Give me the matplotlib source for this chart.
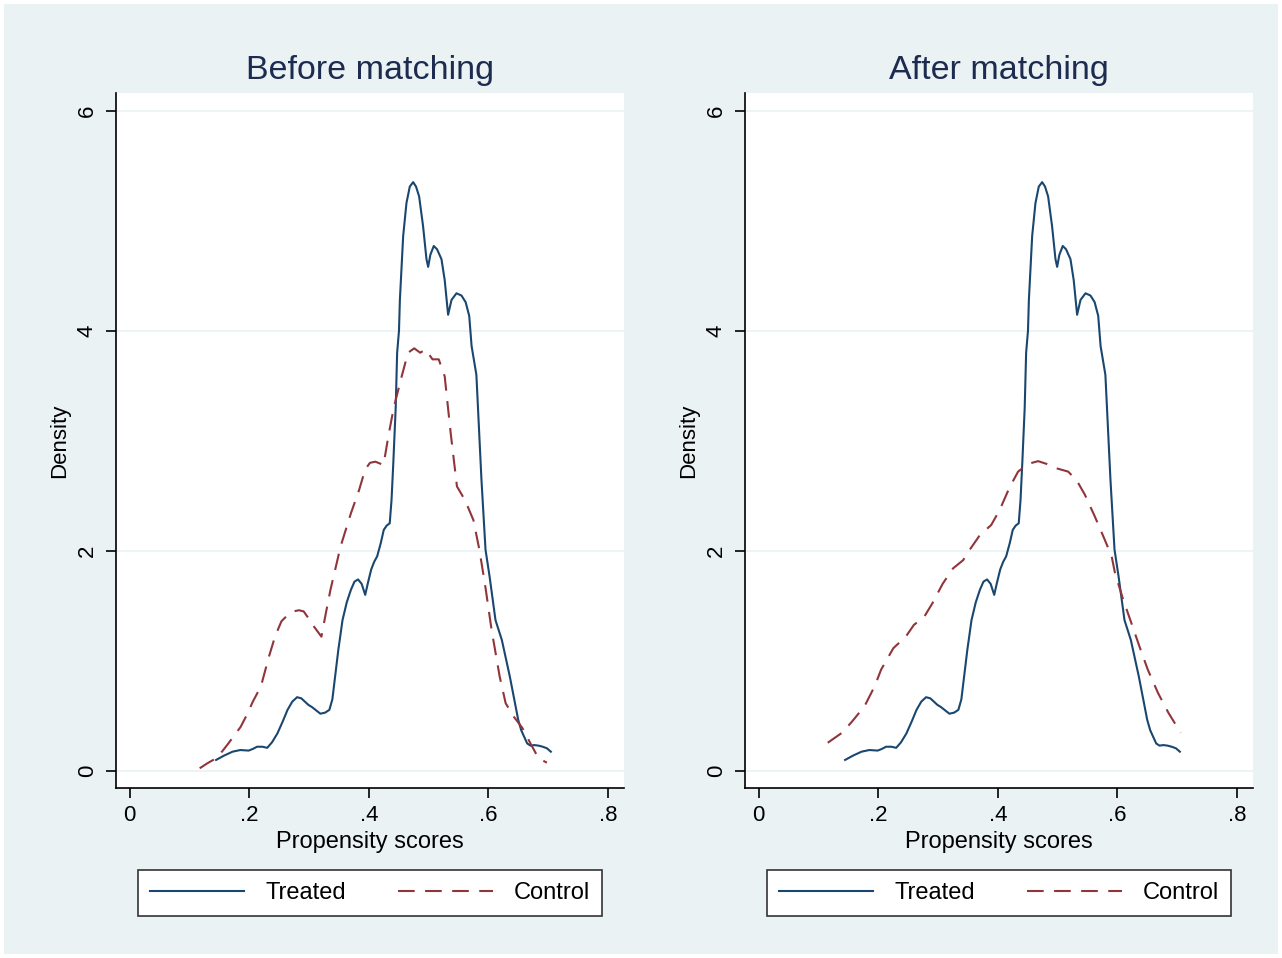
import matplotlib
matplotlib.use("Agg")
import matplotlib.pyplot as plt
from matplotlib.patches import Rectangle

# propensity score densities
treated_x = [0.1445, 0.158, 0.172, 0.185, 0.199, 0.206, 0.213, 0.222, 0.230, 0.238,
             0.247, 0.256, 0.264, 0.272, 0.280, 0.287, 0.293, 0.299, 0.305, 0.312,
             0.319, 0.327, 0.334, 0.339, 0.343, 0.349, 0.356, 0.363, 0.370, 0.376,
             0.382, 0.388, 0.394, 0.399, 0.404, 0.409, 0.414, 0.420, 0.425, 0.430,
             0.435, 0.438, 0.441, 0.445, 0.4474, 0.4505, 0.452, 0.4575, 0.463, 0.4686,
             0.4742, 0.479, 0.4842, 0.4908, 0.4965, 0.4993, 0.503, 0.5087, 0.5142, 0.5216,
             0.527, 0.5327, 0.5384, 0.5467, 0.555, 0.562, 0.568, 0.572, 0.580, 0.5885,
             0.5953, 0.602, 0.612, 0.6226, 0.636, 0.650, 0.655, 0.660, 0.665, 0.6705,
             0.677, 0.684, 0.691, 0.698, 0.7046]
treated_y = [0.10, 0.14, 0.175, 0.19, 0.185, 0.20, 0.22, 0.22, 0.21, 0.26,
             0.34, 0.45, 0.555, 0.63, 0.67, 0.66, 0.63, 0.60, 0.58, 0.55,
             0.52, 0.53, 0.555, 0.65, 0.83, 1.10, 1.37, 1.53, 1.645, 1.72,
             1.74, 1.70, 1.60, 1.72, 1.83, 1.90, 1.95, 2.07, 2.19, 2.23,
             2.25, 2.46, 2.80, 3.30, 3.80, 4.00, 4.28, 4.86, 5.16, 5.31,
             5.35, 5.31, 5.22, 4.95, 4.65, 4.58, 4.69, 4.77, 4.74, 4.65,
             4.46, 4.145, 4.28, 4.34, 4.32, 4.26, 4.135, 3.86, 3.60, 2.645,
             2.01, 1.77, 1.37, 1.19, 0.857, 0.464, 0.37, 0.31, 0.25, 0.23,
             0.235, 0.23, 0.22, 0.206, 0.175]

control_before_x = [0.117, 0.130, 0.1445, 0.155, 0.165, 0.1855, 0.196, 0.206, 0.2196, 0.226,
                    0.233, 0.243, 0.2538, 0.263, 0.274, 0.283, 0.291, 0.300, 0.3085, 0.3207,
                    0.328, 0.3358, 0.3528, 0.370, 0.3836, 0.394, 0.402, 0.411, 0.4246, 0.433,
                    0.4417, 0.455, 0.4656, 0.476, 0.486, 0.495, 0.5066, 0.517, 0.527, 0.537,
                    0.5475, 0.561, 0.575, 0.585, 0.595, 0.6055, 0.619, 0.629, 0.643, 0.657,
                    0.6705, 0.684, 0.698]
control_before_y = [0.024, 0.07, 0.115, 0.18, 0.25, 0.40, 0.51, 0.63, 0.77, 0.90,
                    1.04, 1.22, 1.36, 1.41, 1.45, 1.46, 1.45, 1.38, 1.31, 1.22,
                    1.43, 1.645, 2.04, 2.34, 2.55, 2.74, 2.80, 2.81, 2.78, 3.05,
                    3.30, 3.585, 3.80, 3.84, 3.80, 3.83, 3.74, 3.74, 3.585, 3.07,
                    2.585, 2.46, 2.28, 2.01, 1.675, 1.28, 0.857, 0.615, 0.49, 0.39,
                    0.25, 0.115, 0.075]

control_after_x = [0.1154, 0.1394, 0.1566, 0.177, 0.194, 0.2047, 0.2253, 0.246, 0.2596, 0.2768,
                   0.2905, 0.3077, 0.325, 0.342, 0.353, 0.3696, 0.389, 0.403, 0.420, 0.434,
                   0.4507, 0.4675, 0.4815, 0.498, 0.5177, 0.532, 0.5457, 0.5625, 0.579, 0.5905,
                   0.596, 0.61, 0.6236, 0.637, 0.651, 0.668, 0.6855, 0.706]
control_after_y = [0.256, 0.347, 0.452, 0.588, 0.77, 0.92, 1.116, 1.22, 1.327, 1.40,
                   1.523, 1.70, 1.84, 1.915, 2.01, 2.14, 2.235, 2.37, 2.58, 2.72,
                   2.79, 2.815, 2.79, 2.75, 2.72, 2.64, 2.51, 2.31, 2.10, 1.95,
                   1.80, 1.553, 1.342, 1.131, 0.92, 0.709, 0.528, 0.347]

panel_titles = ["Before matching", "After matching"]
x_ticks = [0, 0.2, 0.4, 0.6, 0.8]
x_ticklabels = ["0", ".2", ".4", ".6", ".8"]
y_ticks = [0, 2, 4, 6]
y_ticklabels = ["0", "2", "4", "6"]

bg = "#EAF2F3"
navy = "#1A476F"
maroon = "#90353B"

plt.rcParams['font.family'] = ['Liberation Sans', 'DejaVu Sans']

W, H = 1282, 958
fig = plt.figure(figsize=(W / 100, H / 100), dpi=100)
fig.patch.set_facecolor("white")
fig.add_artist(Rectangle((4 / W, 4 / H), (W - 8) / W, (H - 8) / H,
                         transform=fig.transFigure, facecolor=bg,
                         edgecolor="none", zorder=-10))

panels = [
    (116, panel_titles[0], control_before_x, control_before_y),
    (745, panel_titles[1], control_after_x, control_after_y),
]

for left_px, title, cx, cy in panels:
    ax = fig.add_axes([left_px / W, (H - 788) / H, 508 / W, 695 / H])
    ax.set_facecolor("white")
    ax.plot(treated_x, treated_y, color=navy, lw=1.5, label="Treated",
            solid_joinstyle="round")
    ax.plot(cx, cy, color=maroon, lw=1.5, dashes=(8, 5), label="Control")
    ax.set_xlim(-0.023, 0.827)
    ax.set_ylim(-0.155, 6.16)
    ax.set_xticks(x_ticks)
    ax.set_xticklabels(x_ticklabels)
    ax.set_yticks(y_ticks)
    ax.set_yticklabels(y_ticklabels, rotation=90, va="center")
    for y in y_ticks:
        ax.axhline(y, color=bg, lw=1.2, zorder=0)
    for s in ["top", "right"]:
        ax.spines[s].set_visible(False)
    for s in ["left", "bottom"]:
        ax.spines[s].set_linewidth(1.2)
        ax.spines[s].set_color("black")
    ax.tick_params(axis="both", direction="out", length=7, width=1.2,
                   labelsize=16, color="black")
    ax.tick_params(axis="x", pad=5)
    ax.tick_params(axis="y", pad=6)
    ax.set_xlabel("Propensity scores", fontsize=17, labelpad=4)
    ax.set_ylabel("Density", fontsize=16, labelpad=5)
    ax.set_title(title, fontsize=24.5, color="#1C2B4F", pad=10)
    leg = ax.legend(loc="center", ncol=2, fontsize=17,
                    bbox_to_anchor=((left_px + 254) / W, (H - 893) / H),
                    bbox_transform=fig.transFigure,
                    frameon=True, fancybox=False, framealpha=1,
                    handlelength=4.0, handletextpad=0.9, columnspacing=2.2,
                    borderpad=0.5)
    leg.get_frame().set_facecolor("white")
    leg.get_frame().set_edgecolor("#333333")
    leg.get_frame().set_linewidth(1.2)

fig.savefig("out.png", dpi=100, facecolor=fig.get_facecolor())
